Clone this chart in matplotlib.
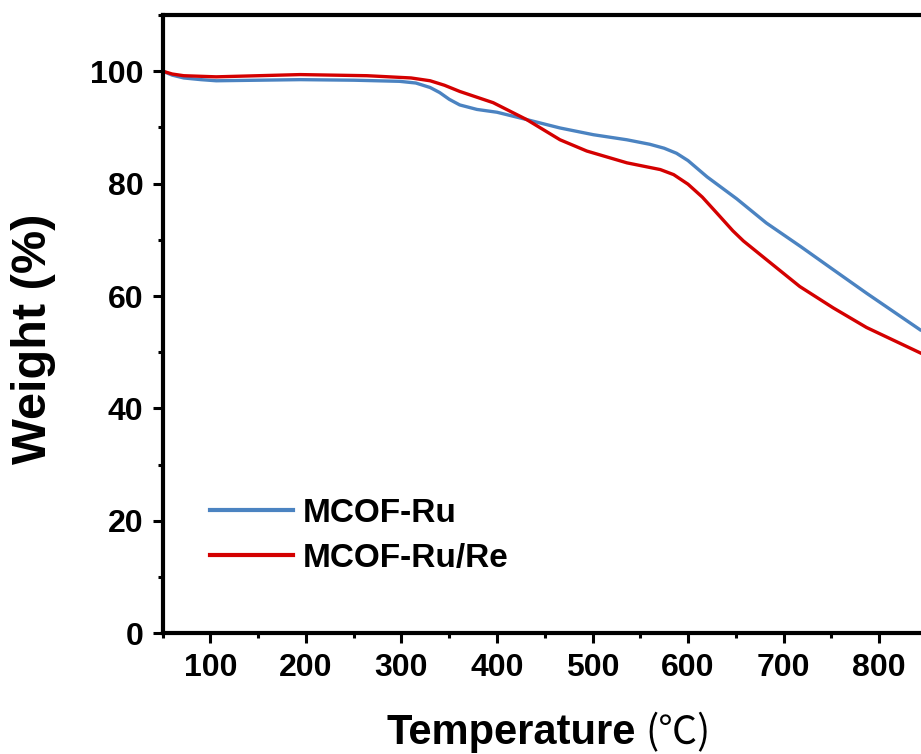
import matplotlib
matplotlib.use('Agg')
import matplotlib.pyplot as plt
from matplotlib.ticker import MultipleLocator

plt.rcParams['font.family'] = ['Liberation Sans', 'Noto Sans CJK SC', 'DejaVu Sans']
plt.rcParams['font.weight'] = 'bold'

# TGA curves (temperature in C, weight in %)
temp_ru = [50, 60, 72, 90, 106, 150, 194, 250, 298, 315, 330, 340, 350, 361, 379, 400, 431,
           466, 501, 536, 560, 575, 588, 600, 620, 651, 682, 718, 752, 787, 843]
weight_ru = [100, 99.3, 98.8, 98.5, 98.3, 98.4, 98.5, 98.4, 98.2, 97.9, 97.1, 96.2, 95.0, 94.0, 93.2, 92.7, 91.4,
             89.9, 88.7, 87.8, 87.0, 86.3, 85.4, 84.1, 81.2, 77.3, 73.0, 68.8, 64.7, 60.5, 54.0]

temp_re = [50, 60, 72, 106, 150, 194, 264, 310, 330, 345, 361, 396, 431, 466, 494,
           536, 571, 585, 600, 615, 630, 647, 658, 682, 717, 752, 787, 843]
weight_re = [100, 99.5, 99.2, 99.0, 99.2, 99.4, 99.2, 98.8, 98.3, 97.5, 96.4, 94.4, 91.4, 87.8, 85.8,
             83.7, 82.5, 81.6, 79.9, 77.6, 74.8, 71.6, 69.8, 66.5, 61.7, 57.9, 54.4, 49.9]

labels = ['MCOF-Ru', 'MCOF-Ru/Re']
colors = ['#4b83c1', '#d40000']

fig = plt.figure(figsize=(9.21, 7.54), dpi=100)
# axes runs past the right edge of the figure, as in the cropped original
ax = fig.add_axes([0.1767, 0.1601, 0.8814, 0.820])

ax.plot(temp_ru, weight_ru, color=colors[0], linewidth=2.4, label=labels[0])
ax.plot(temp_re, weight_re, color=colors[1], linewidth=2.4, label=labels[1])

ax.set_xlim(50, 900)
ax.set_ylim(0, 110)
ax.set_xticks([100, 200, 300, 400, 500, 600, 700, 800])
ax.set_yticks([0, 20, 40, 60, 80, 100])
ax.xaxis.set_minor_locator(MultipleLocator(50))
ax.yaxis.set_minor_locator(MultipleLocator(10))
ax.tick_params(which='major', direction='out', length=7, width=2.2, labelsize=23, pad=7)
ax.tick_params(which='minor', direction='out', length=3.5, width=2.2)
for lab in ax.get_xticklabels() + ax.get_yticklabels():
    lab.set_fontweight('bold')

for s in ax.spines.values():
    s.set_linewidth(3.0)

leg = ax.legend(loc='upper left', bbox_to_anchor=(0.058, 0.219), frameon=False,
                fontsize=24, handlelength=2.5, handletextpad=0.3, labelspacing=0.42,
                borderpad=0, borderaxespad=0)
for line in leg.get_lines():
    line.set_linewidth(3)

fig.text(386 / 921, 10 / 754, 'Temperature', fontsize=30, fontweight='bold',
         ha='left', va='baseline')
fig.text(645 / 921, 10 / 754, '(℃)', fontsize=28, fontweight='normal',
         family=['Noto Sans CJK SC', 'DejaVu Sans'], ha='left', va='baseline')
fig.text(34 / 921, (754 - 339) / 754, 'Weight (%)', fontsize=35, fontweight='bold',
         rotation=90, ha='center', va='center')

fig.savefig('out.png', dpi=100)
